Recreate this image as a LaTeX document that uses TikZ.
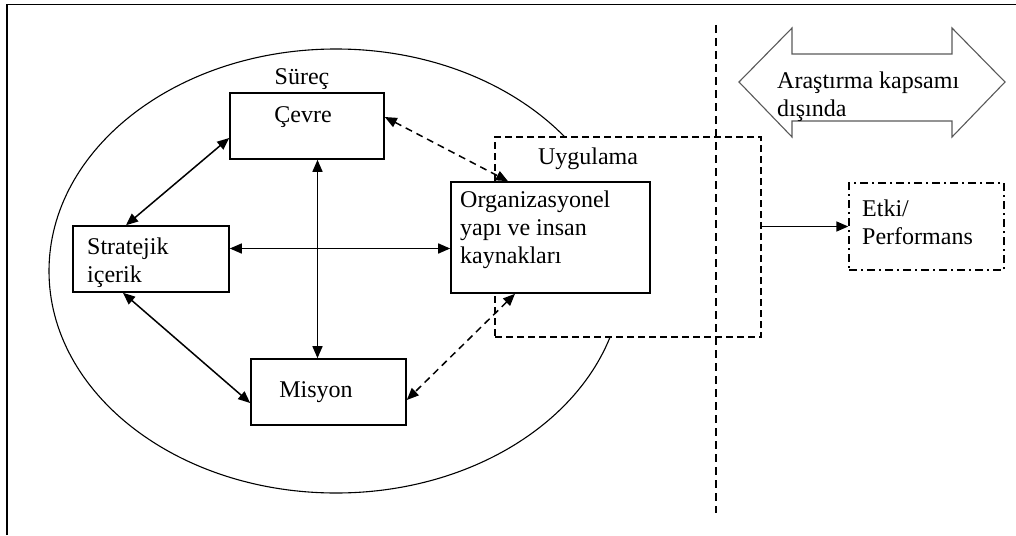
\documentclass[tikz,border=0pt]{standalone}
\usepackage{fontspec}
\setmainfont{Liberation Serif}
\usetikzlibrary{arrows.meta,calc}

\tikzset{
  stdfont/.style={font=\fontsize{24}{28}\selectfont},
  procbox/.style={draw, fill=white, line width=1.6pt, inner sep=0pt},
  txt/.style={stdfont, inner sep=0pt, align=left},
  tip/.style={Triangle[length=12pt,width=10pt]},
  link/.style={line width=1.5pt, {Triangle[length=12pt,width=10pt]}-{Triangle[length=12pt,width=10pt]}},
  dlink/.style={link, dash pattern=on 7pt off 5pt},
  onearrow/.style={line width=1.5pt, -{Triangle[length=12pt,width=10pt]}},
}

\begin{document}
\begin{tikzpicture}[x=1pt,y=-1pt]
  \useasboundingbox (0,0) rectangle (1016,535);

  % frame lines
  \draw[line width=1.6pt] (7,535) -- (7,4.5) -- (1016,4.5);

  % process ellipse
  \draw[line width=1.1pt] (336,271) ellipse [x radius=287, y radius=222];
  \node[txt] (surec) at (302,79) {Süreç};

  % implementation area (covers the ellipse)
  \node[draw, fill=white, line width=1.4pt, dash pattern=on 7pt off 4pt, inner sep=0pt,
        minimum width=266pt, minimum height=200pt] (uyg) at (628,237) {};
  \node[txt] (uygT) at (588,159) {Uygulama};

  % scope divider
  \coordinate (divtop) at (716,25);
  \coordinate (divbot) at (716,513);
  \draw[line width=1.4pt, dash pattern=on 8pt off 5pt] (divtop) -- (divbot);

  % boxes
  \node[procbox, minimum width=154pt, minimum height=66pt] (cevre) at (307,126) {};
  \node[txt] (cevreT) at (303,117) {Çevre};

  \node[procbox, minimum width=156pt, minimum height=66pt] (strat) at (151,259) {};
  \node[txt, anchor=west] (stratT) at (87,263) {Stratejik\\içerik};

  \node[procbox, minimum width=199pt, minimum height=111pt] (org) at (550.5,237.5) {};
  \node[txt, anchor=west] (orgT) at (460,230) {Organizasyonel\\yapı ve insan\\kaynakları};

  \node[procbox, minimum width=155pt, minimum height=66pt] (misyon) at (328.5,392) {};
  \node[txt] (misyonT) at (316,392) {Misyon};

  % outcome box
  \node[draw, line width=1.4pt, dash pattern=on 8pt off 4pt on 2pt off 4pt, inner sep=0pt,
        minimum width=155pt, minimum height=87pt] (etki) at (926.5,226.5) {};
  \node[txt, anchor=west] (etkiT) at (862,222) {Etki/\\Performans};

  % out-of-scope double arrow
  \draw[line width=1.1pt, draw=black!65] (739,82) -- (792,28) -- (792,54) -- (952,54) -- (952,28)
        -- (1005,82) -- (952,137) -- (952,121) -- (792,121) -- (792,137) -- cycle;
  \node[txt, anchor=west] (scopeT) at (777,97) {Araştırma kapsamı\\dışında};

  % connectors
  \draw[link] ([yshift=-12pt]cevre.west) -- ([xshift=-25pt]strat.north);
  \draw[link] ([xshift=-28pt]strat.south) -- ([yshift=-11pt]misyon.west);
  \draw[link] ([yshift=10.5pt]strat.east) -- ([yshift=-11pt]org.west);
  \draw[link] ([xshift=10.5pt]cevre.south) -- ([xshift=-11pt]misyon.north);
  \draw[dlink] ([yshift=9pt]cevre.east) -- ([xshift=-42.5pt]org.north);
  \draw[dlink] ([xshift=-35.5pt]org.south) -- ([yshift=-8pt]misyon.east);
  \draw[onearrow] ([yshift=10.5pt]uyg.east) -- (etki.west);
\end{tikzpicture}
\end{document}
